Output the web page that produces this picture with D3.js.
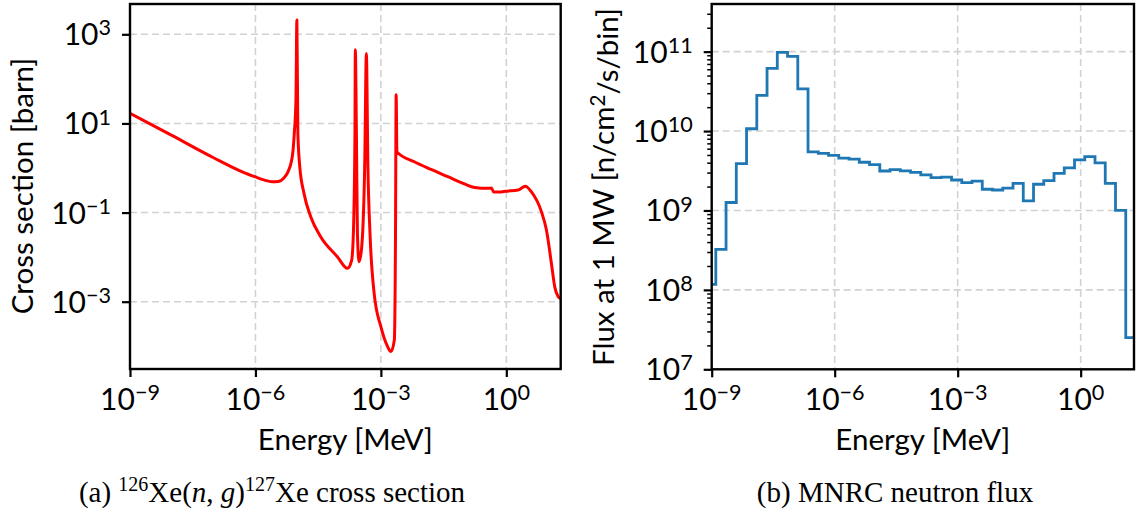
<!DOCTYPE html>
<html>
<head>
<meta charset="utf-8">
<script src="https://cdn.jsdelivr.net/npm/d3@7"></script>
<style>
  body { margin: 0; background: white; }
  svg text { font-family: Lato, "Open Sans", sans-serif; fill: #000; }
  .caption { font-family: "Liberation Serif", "DejaVu Serif", serif; }
</style>
</head>
<body>
<div id="chart"></div>
<script>
// 126Xe(n,g) cross section (energy in MeV, sigma in barn)
var xsEnergy = [1.0e-9, 1.0e-8, 1.0e-7, 5.0e-7, 1.0e-6, 1.58e-6, 2.5e-6, 3.55e-6, 4.8e-6, 5.75e-6,
    7.6e-6, 8.5e-6, 9.3e-6, 9.8e-6, 1.035e-5, 1.15e-5, 1.45e-5, 2.1e-5, 3.6e-5, 9.1e-5,
    1.58e-4, 2.0e-4, 2.2e-4, 2.4e-4, 2.45e-4, 2.6e-4, 2.75e-4, 3.0e-4, 3.43e-4, 4.1e-4,
    4.5e-4, 4.9e-4, 5.5e-4, 6.9e-4, 1.0e-3, 1.45e-3, 1.74e-3, 2.1e-3, 2.24e-3, 2.32e-3,
    2.42e-3, 6.3e-3, 1.58e-2, 0.04, 0.1, 0.174, 0.363, 0.44, 0.5, 0.76,
    0.955, 1.9, 2.85, 4.0, 6.9, 9.1, 12.0, 14.5, 17.4, 20.0]
var xsSigma = [16.8, 5.4, 1.7, 0.81, 0.63, 0.54, 0.49, 0.50, 0.60, 0.76,
    1.78, 6.0, 33, 2100, 6.0, 1.07, 0.27, 0.081, 0.029, 0.0102,
    0.0056, 0.0085, 0.034, 6.0, 450, 6.0, 0.034, 0.0079, 0.0145, 1.07,
    370, 1.07, 0.034, 0.00155, 2.75e-4, 9.8e-5, 7.6e-5, 1.38e-4, 0.034, 44,
    2.3, 1.38, 0.93, 0.64, 0.44, 0.367, 0.35, 0.355, 0.29, 0.29,
    0.30, 0.32, 0.39, 0.29, 0.105, 0.041, 0.0072, 0.0021, 0.0013, 0.00117]

// MNRC flux group structure: bin edges as log10(E / MeV), and flux per bin
var fluxEdgeLog = [-9, -8.9, -8.65, -8.4, -8.15, -7.9, -7.65, -7.4, -7.15, -6.9, -6.65,
    -6.4, -6.15, -5.9, -5.65, -5.4, -5.15, -4.9, -4.65, -4.4, -4.15,
    -3.9, -3.65, -3.4, -3.15, -2.9, -2.65, -2.4, -2.15, -1.9, -1.65,
    -1.4, -1.15, -0.9, -0.65, -0.4, -0.15, 0.1, 0.35, 0.6, 0.85, 1.1, 1.301]
var fluxValues = [1.17e8, 3.24e8, 1.26e9, 3.89e9, 1.07e10, 2.82e10, 6.17e10, 9.77e10, 8.71e10, 3.39e10,
    5.46e9, 5.25e9, 4.95e9, 4.57e9, 4.42e9, 4.05e9, 3.78e9, 3.14e9, 3.27e9, 3.16e9,
    3.02e9, 2.80e9, 2.59e9, 2.63e9, 2.42e9, 2.24e9, 2.34e9, 1.85e9, 1.81e9, 1.91e9,
    2.20e9, 1.32e9, 2.14e9, 2.37e9, 2.94e9, 3.43e9, 4.33e9, 4.76e9, 3.98e9, 2.20e9,
    1.0e9, 2.51e7]

var xTickExp = [-9, -6, -3, 0]
var xsYTickExp = [-3, -1, 1, 3]
var fluxYTickExp = [7, 8, 9, 10, 11]

var svgSize = { width: 1138, height: 521 }

var svg = d3.select("#chart").append("svg")
    .attr("width", svgSize.width)
    .attr("height", svgSize.height)

var tickFont = 30
var labelFont = 29.5

function sup(textSel, base, exp) {
    textSel.append("tspan").text(base)
    textSel.append("tspan").attr("dy", "-0.46em").attr("font-size", "72%")
        .text(exp < 0 ? "\u2212" + (-exp) : exp)
}

function panel(box, yDomain, yTicks, minor) {
    var x = d3.scaleLog().domain([1e-9, 20]).range([box.left, box.right])
    var y = d3.scaleLog().domain(yDomain).range([box.bottom, box.top])
    var g = svg.append("g")

    // grid
    xTickExp.slice(1).forEach(function (e) {
        g.append("line").attr("x1", x(Math.pow(10, e))).attr("x2", x(Math.pow(10, e)))
            .attr("y1", box.top).attr("y2", box.bottom)
            .attr("stroke", "#d2d2d2").attr("stroke-width", 1.6).attr("stroke-dasharray", "7,4")
    })
    yTicks.forEach(function (e) {
        var yy = y(Math.pow(10, e))
        if (yy > box.bottom - 1) return
        g.append("line").attr("x1", box.left).attr("x2", box.right)
            .attr("y1", yy).attr("y2", yy)
            .attr("stroke", "#d2d2d2").attr("stroke-width", 1.6).attr("stroke-dasharray", "7,4")
    })

    // axes
    var bottom = d3.axisBottom(x).tickValues(xTickExp.map(function (e) { return Math.pow(10, e) }))
        .tickSize(8).tickFormat("")
    var left = d3.axisLeft(y).tickValues(yTicks.map(function (e) { return Math.pow(10, e) }))
        .tickSize(8).tickFormat("")
    var ax = g.append("g").attr("transform", "translate(0," + box.bottom + ")").call(bottom)
    var ay = g.append("g").attr("transform", "translate(" + box.left + ",0)").call(left)
    if (minor) {
        var mv = []
        for (var d = 7; d <= 11; d++) for (var k = 2; k <= 9; k++) {
            var v = k * Math.pow(10, d)
            if (v < yDomain[1]) mv.push(v)
        }
        g.append("g").attr("transform", "translate(" + box.left + ",0)")
            .call(d3.axisLeft(y).tickValues(mv).tickSize(4.5).tickFormat(""))
            .selectAll("line").attr("stroke-width", 1.5)
    }
    g.selectAll(".domain").remove()
    ax.selectAll("line").attr("stroke-width", 2.2)
    ay.selectAll("line").attr("stroke-width", 2.2)

    // tick labels
    xTickExp.forEach(function (e) {
        var t = g.append("text").attr("x", x(Math.pow(10, e))).attr("y", box.bottom + 41)
            .attr("text-anchor", "middle").attr("font-size", tickFont)
        sup(t, "10", e)
    })
    yTicks.forEach(function (e) {
        var t = g.append("text").attr("x", box.left - 19).attr("y", y(Math.pow(10, e)) + 11)
            .attr("text-anchor", "end").attr("font-size", tickFont)
        sup(t, "10", e)
    })

    g.append("text").attr("x", (box.left + box.right) / 2).attr("y", box.bottom + 81)
        .attr("text-anchor", "middle").attr("font-size", labelFont).text("Energy [MeV]")

    return { x: x, y: y, g: g }
}

function frame(box) {
    svg.append("rect").attr("x", box.left).attr("y", box.top)
        .attr("width", box.right - box.left).attr("height", box.bottom - box.top)
        .attr("fill", "none").attr("stroke", "#000").attr("stroke-width", 2.4)
}

// (a) cross section
var boxA = { left: 130, right: 560.7, top: 4, bottom: 369 }
var pA = panel(boxA, [Math.pow(10, -4.51), Math.pow(10, 3.68)], xsYTickExp, false)
var xsData = xsEnergy.map(function (e, i) { return [e, xsSigma[i]] })
svg.append("clipPath").attr("id", "clipA").append("rect")
    .attr("x", boxA.left).attr("y", boxA.top)
    .attr("width", boxA.right - boxA.left).attr("height", boxA.bottom - boxA.top)
svg.append("path").datum(xsData)
    .attr("clip-path", "url(#clipA)")
    .attr("fill", "none").attr("stroke", "#ff0000").attr("stroke-width", 3)
    .attr("stroke-linejoin", "round").attr("stroke-linecap", "round")
    .attr("d", d3.line().curve(d3.curveMonotoneX)
        .x(function (d) { return pA.x(d[0]) }).y(function (d) { return pA.y(d[1]) }))
frame(boxA)
svg.append("text").attr("transform", "translate(23,186) rotate(-90)")
    .attr("text-anchor", "middle").attr("dy", "0.35em").attr("font-size", labelFont)
    .text("Cross section [barn]")

// (b) flux
var boxB = { left: 711.7, right: 1134, top: 4, bottom: 369.3 }
var pB = panel(boxB, [1e7, Math.pow(10, 11.6)], fluxYTickExp, true)
var fluxPts = fluxEdgeLog.map(function (e, i) {
    return [Math.pow(10, e), fluxValues[Math.min(i, fluxValues.length - 1)]]
})
svg.append("path").datum(fluxPts)
    .attr("fill", "none").attr("stroke", "#1f77b4").attr("stroke-width", 2.8)
    .attr("d", d3.line().curve(d3.curveStepAfter)
        .x(function (d) { return pB.x(d[0]) }).y(function (d) { return pB.y(d[1]) }))
frame(boxB)
var yl = svg.append("text").attr("transform", "translate(604,187) rotate(-90)")
    .attr("text-anchor", "middle").attr("dy", "0.35em").attr("font-size", labelFont)
yl.append("tspan").text("Flux at 1 MW [n/cm")
yl.append("tspan").attr("dy", "-0.45em").attr("font-size", "70%").text("2")
yl.append("tspan").attr("dy", "0.45em").text("/s/bin]")

// captions
var capFont = 29
var capA = svg.append("text").attr("class", "caption").attr("x", 272).attr("y", 502)
    .attr("text-anchor", "middle").attr("font-size", capFont)
capA.append("tspan").text("(a) ")
capA.append("tspan").attr("dy", -11).attr("font-size", 20).text("126")
capA.append("tspan").attr("dy", 11).text("Xe(")
capA.append("tspan").attr("font-style", "italic").text("n")
capA.append("tspan").text(", ")
capA.append("tspan").attr("font-style", "italic").text("g")
capA.append("tspan").text(")")
capA.append("tspan").attr("dy", -11).attr("font-size", 20).text("127")
capA.append("tspan").attr("dy", 11).text("Xe cross section")

svg.append("text").attr("class", "caption").attr("x", 895).attr("y", 502)
    .attr("text-anchor", "middle").attr("font-size", capFont).text("(b) MNRC neutron flux")
</script>
</body>
</html>
